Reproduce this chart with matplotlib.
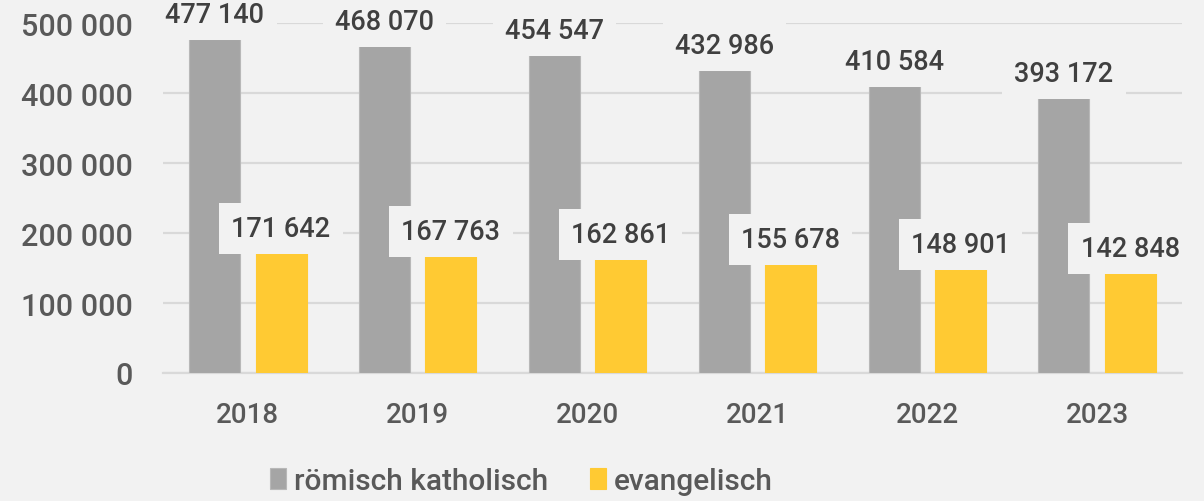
import matplotlib.pyplot as plt
import numpy as np
from matplotlib.ticker import FuncFormatter

years = ['2018', '2019', '2020', '2021', '2022', '2023']
katholisch = [477140, 468070, 454547, 432986, 410584, 393172]
evangelisch = [171642, 167763, 162861, 155678, 148901, 142848]

bg = '#f2f2f2'
grey = '#a5a5a5'
yellow = '#ffca33'
txt = '#404040'
tick_col = '#595959'

plt.rcParams['font.family'] = ['Roboto', 'DejaVu Sans']
plt.rcParams['font.weight'] = 'medium'

fig = plt.figure(figsize=(12.04, 5.02), dpi=100, facecolor=bg)
ax = fig.add_axes([0.1354, 0.255, 0.8463, 0.697])
ax.set_facecolor(bg)

x = np.arange(len(years))
w = 0.30
off = 0.195
b1 = ax.bar(x - off, katholisch, w, color=grey, edgecolor='#b8b8b8', linewidth=0.8,
            label='römisch katholisch', zorder=3)
b2 = ax.bar(x + off, evangelisch, w, color=yellow, edgecolor=yellow, linewidth=0.8,
            label='evangelisch', zorder=3)

fmt = lambda v: f'{int(v):,}'.replace(',', ' ')

for bars, vals in ((b1, katholisch), (b2, evangelisch)):
    for r, v in zip(bars, vals):
        ax.annotate(fmt(v), (r.get_x() + r.get_width() / 2, v),
                    xytext=(0, 17.5), textcoords='offset points',
                    ha='center', va='center', fontsize=19.5, color=txt,
                    bbox=dict(boxstyle='square,pad=0.45', fc=bg, ec='none'),
                    zorder=5, annotation_clip=False)

ax.set_ylim(0, 500000)
ax.set_xlim(-0.5, len(years) - 0.5)
ax.set_yticks(range(0, 500001, 100000))
ax.yaxis.set_major_formatter(FuncFormatter(lambda v, p: fmt(v)))
ax.set_xticks(x)
ax.set_xticklabels(years)
ax.tick_params(axis='y', length=0, pad=22, labelsize=22, labelcolor=tick_col)
ax.tick_params(axis='x', length=0, pad=20, labelsize=20, labelcolor=tick_col)
ax.grid(axis='y', color='#d9d9d9', linewidth=1.6, zorder=0)
ax.set_axisbelow(True)
for s in ['top', 'right', 'left']:
    ax.spines[s].set_visible(False)
ax.spines['bottom'].set_color('#d9d9d9')
ax.spines['bottom'].set_linewidth(1.6)

leg = fig.legend(loc='center', bbox_to_anchor=(0.433, 0.04), ncol=2, frameon=False,
                 fontsize=21.5, handlelength=0.55, handleheight=0.75, handletextpad=0.25,
                 columnspacing=1.4)
for t in leg.get_texts():
    t.set_color(tick_col)

fig.savefig('out.png', dpi=100, facecolor=bg)
